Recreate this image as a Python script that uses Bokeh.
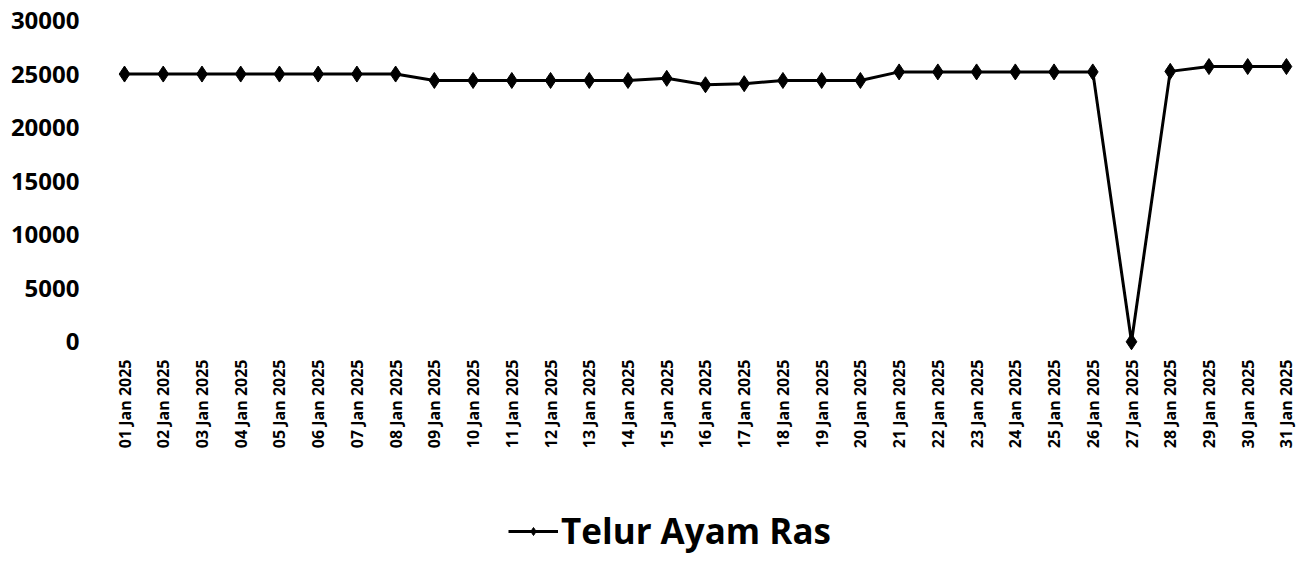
import math
from bokeh.plotting import figure
from bokeh.layouts import column
from bokeh.models import Range1d, FixedTicker, Legend, LegendItem
from bokeh.embed import file_html
from bokeh.resources import INLINE

dates = ["01 Jan 2025", "02 Jan 2025", "03 Jan 2025", "04 Jan 2025", "05 Jan 2025",
         "06 Jan 2025", "07 Jan 2025", "08 Jan 2025", "09 Jan 2025", "10 Jan 2025",
         "11 Jan 2025", "12 Jan 2025", "13 Jan 2025", "14 Jan 2025", "15 Jan 2025",
         "16 Jan 2025", "17 Jan 2025", "18 Jan 2025", "19 Jan 2025", "20 Jan 2025",
         "21 Jan 2025", "22 Jan 2025", "23 Jan 2025", "24 Jan 2025", "25 Jan 2025",
         "26 Jan 2025", "27 Jan 2025", "28 Jan 2025", "29 Jan 2025", "30 Jan 2025",
         "31 Jan 2025"]
prices = [25000, 25000, 25000, 25000, 25000, 25000, 25000, 25000, 24400, 24400,
          24400, 24400, 24400, 24400, 24600, 24000, 24100, 24400, 24400, 24400,
          25200, 25200, 25200, 25200, 25200, 25200, 0, 25250, 25700, 25700,
          25700]
y_ticks = [0, 5000, 10000, 15000, 20000, 25000, 30000]
series_name = "Telur Ayam Ras"

xs = list(range(len(dates)))
FONT = "Open Sans"

p = figure(frame_width=1196, frame_height=332, output_backend="svg",
           toolbar_location=None,
           x_range=Range1d(-0.62, 30.26), y_range=Range1d(-1000, 30000),
           min_border_left=100, min_border_right=9, min_border_top=20,
           min_border_bottom=0)
p.outline_line_color = None
p.xgrid.visible = False
p.ygrid.visible = False

line = p.line(xs, prices, line_color="black", line_width=3)
pts = p.scatter(xs, prices, marker="diamond", size=16, fill_color="black",
                line_color="black")

for ax in (p.xaxis[0], p.yaxis[0]):
    ax.axis_line_color = None
    ax.major_tick_line_color = None
    ax.minor_tick_line_color = None
    ax.major_tick_out = 0
    ax.major_tick_in = 0
    ax.major_label_text_font = FONT
    ax.major_label_text_font_style = "bold"
    ax.major_label_text_color = "black"

p.yaxis[0].ticker = FixedTicker(ticks=y_ticks)
p.yaxis[0].major_label_text_font_size = "24px"
p.yaxis[0].major_label_standoff = 21

xa = p.xaxis[0]
xa.ticker = FixedTicker(ticks=xs)
xa.major_label_overrides = {i: d for i, d in zip(xs, dates)}
xa.major_label_orientation = math.pi / 2
xa.major_label_text_font_size = "16px"
xa.major_label_standoff = 7

# legend strip below the chart (series drawn out of view, only its legend shows)
p2 = figure(width=1305, height=105, output_backend="svg", toolbar_location=None,
            x_axis_location=None, y_axis_location=None,
            x_range=Range1d(-100, -90), y_range=Range1d(0, 30000),
            min_border_left=0, min_border_right=0, min_border_top=0,
            min_border_bottom=0)
p2.outline_line_color = None
p2.xgrid.visible = False
p2.ygrid.visible = False
l2 = p2.line(xs, prices, line_color="black", line_width=3)
s2 = p2.scatter(xs, prices, marker="diamond", size=16, fill_color="black",
                line_color="black")

legend = Legend(items=[LegendItem(label=series_name, renderers=[l2, s2])],
                orientation="horizontal", location=(408, 2),
                label_text_font=FONT, label_text_font_style="bold",
                label_text_font_size="35px", label_text_color="black",
                glyph_width=50, glyph_height=20, label_standoff=3,
                border_line_color=None, background_fill_alpha=0,
                padding=0, margin=0)
p2.add_layout(legend, "center")

layout = column(p, p2, spacing=0)
open("out.html", "w").write(file_html(layout, INLINE))
